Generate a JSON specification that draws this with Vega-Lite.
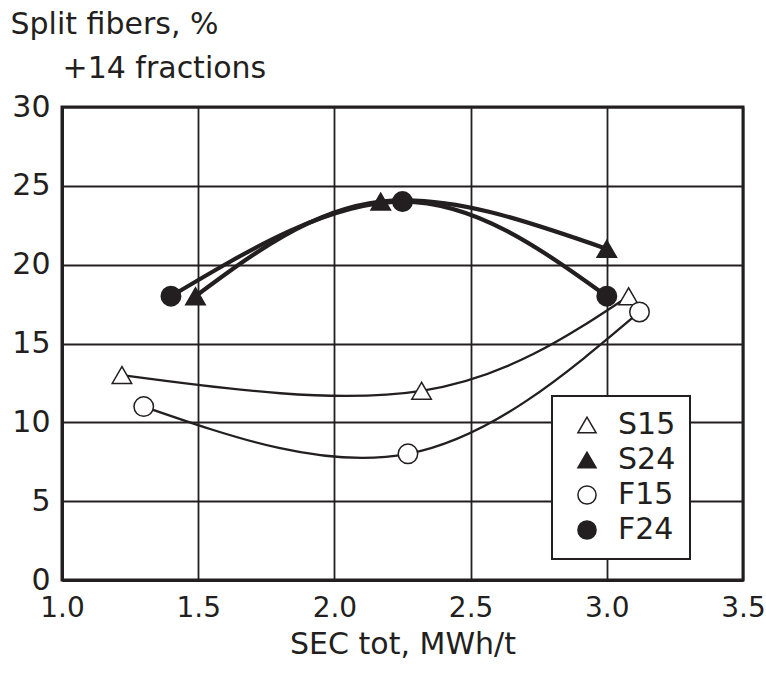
{
  "$schema": "https://vega.github.io/schema/vega-lite/v6.json",
  "autosize": "none",
  "width": 681,
  "height": 473,
  "padding": {"left": 62, "top": 107, "right": 23, "bottom": 95},
  "background": "white",
  "config": {
    "font": "DejaVu Sans",
    "view": {"stroke": "#231f20", "strokeWidth": 3},
    "axis": {
      "labelFont": "DejaVu Sans",
      "titleFont": "DejaVu Sans",
      "labelFontSize": 30,
      "titleFontSize": 30,
      "labelColor": "#231f20",
      "titleColor": "#231f20",
      "titleFontWeight": "normal",
      "ticks": false,
      "domainColor": "#231f20",
      "domainWidth": 3,
      "gridColor": "#231f20",
      "gridWidth": 1.8,
      "gridOpacity": 1
    },
    "legend": {
      "labelFont": "DejaVu Sans",
      "labelFontSize": 30,
      "labelColor": "#231f20",
      "strokeWidth": 2
    }
  },
  "data": {
    "values": [
      {"series": "S15", "x": 1.22, "y": 13},
      {"series": "S15", "x": 2.32, "y": 12},
      {"series": "S15", "x": 3.08, "y": 18},
      {"series": "S24", "x": 1.49, "y": 18},
      {"series": "S24", "x": 2.17, "y": 24},
      {"series": "S24", "x": 3.0, "y": 21},
      {"series": "F15", "x": 1.3, "y": 11},
      {"series": "F15", "x": 2.27, "y": 8},
      {"series": "F15", "x": 3.12, "y": 17},
      {"series": "F24", "x": 1.4, "y": 18},
      {"series": "F24", "x": 2.25, "y": 24},
      {"series": "F24", "x": 3.0, "y": 18}
    ]
  },
  "encoding": {
    "x": {
      "field": "x", "type": "quantitative",
      "scale": {"domain": [1.0, 3.5], "nice": false, "zero": false},
      "axis": {
        "values": [1.0, 1.5, 2.0, 2.5, 3.0, 3.5],
        "format": ".1f",
        "title": "SEC tot, MWh/t",
        "labelFontSize": 28,
        "labelPadding": 14,
        "titlePadding": 7,
        "labelFlush": false
      }
    }
  },
  "resolve": {"axis": {"y": "independent"}},
  "layer": [
    {
      "encoding": {
        "y": {
          "field": "y", "type": "quantitative",
          "scale": {"domain": [0, 30], "nice": false},
          "axis": {
            "values": [0, 5, 10, 15, 20, 25, 30],
            "labelPadding": 12,
            "labelFlush": false,
            "title": "+14 fractions",
            "titleAngle": 0,
            "titleAlign": "left",
            "titleBaseline": "alphabetic",
            "titleX": 0,
            "titleY": -30
          }
        },
        "detail": {"field": "series"},
        "order": {"field": "x"}
      },
      "layer": [
        {
          "transform": [{"filter": "datum.series === 'S15' || datum.series === 'F15'"}],
          "mark": {"type": "line", "interpolate": "natural", "color": "#231f20", "strokeWidth": 2.3}
        },
        {
          "transform": [{"filter": "datum.series === 'S24' || datum.series === 'F24'"}],
          "mark": {"type": "line", "interpolate": "natural", "color": "#231f20", "strokeWidth": 4.2}
        }
      ]
    },
    {
      "mark": {"type": "point", "filled": true, "strokeWidth": 1.5, "opacity": 1},
      "encoding": {
        "y": {
          "field": "y", "type": "quantitative",
          "scale": {"domain": [0, 30], "nice": false},
          "axis": {
            "orient": "right",
            "labels": false,
            "domain": false,
            "grid": false,
            "ticks": false,
            "title": "Split fibers, %",
            "titleAngle": 0,
            "titleAlign": "left",
            "titleBaseline": "alphabetic",
            "titleX": -733,
            "titleY": -74
          }
        },
        "shape": {
          "field": "series", "type": "nominal",
          "scale": {"domain": ["S15", "S24", "F15", "F24"], "range": ["triangle-up", "triangle-up", "circle", "circle"]},
          "legend": {
            "title": null,
            "orient": "none",
            "legendX": 490,
            "legendY": 289,
            "padding": 14,
            "strokeColor": "#231f20",
            "fillColor": "white",
            "symbolSize": 330,
            "symbolOffset": 6,
            "labelOffset": 16,
            "rowPadding": 5,
            "symbolStrokeWidth": 1.5
          }
        },
        "fill": {
          "field": "series", "type": "nominal",
          "scale": {"domain": ["S15", "S24", "F15", "F24"], "range": ["white", "#231f20", "white", "#231f20"]}
        },
        "stroke": {
          "field": "series", "type": "nominal",
          "scale": {"domain": ["S15", "S24", "F15", "F24"], "range": ["#231f20", "#231f20", "#231f20", "#231f20"]}
        },
        "size": {"value": 380}
      }
    }
  ]
}
